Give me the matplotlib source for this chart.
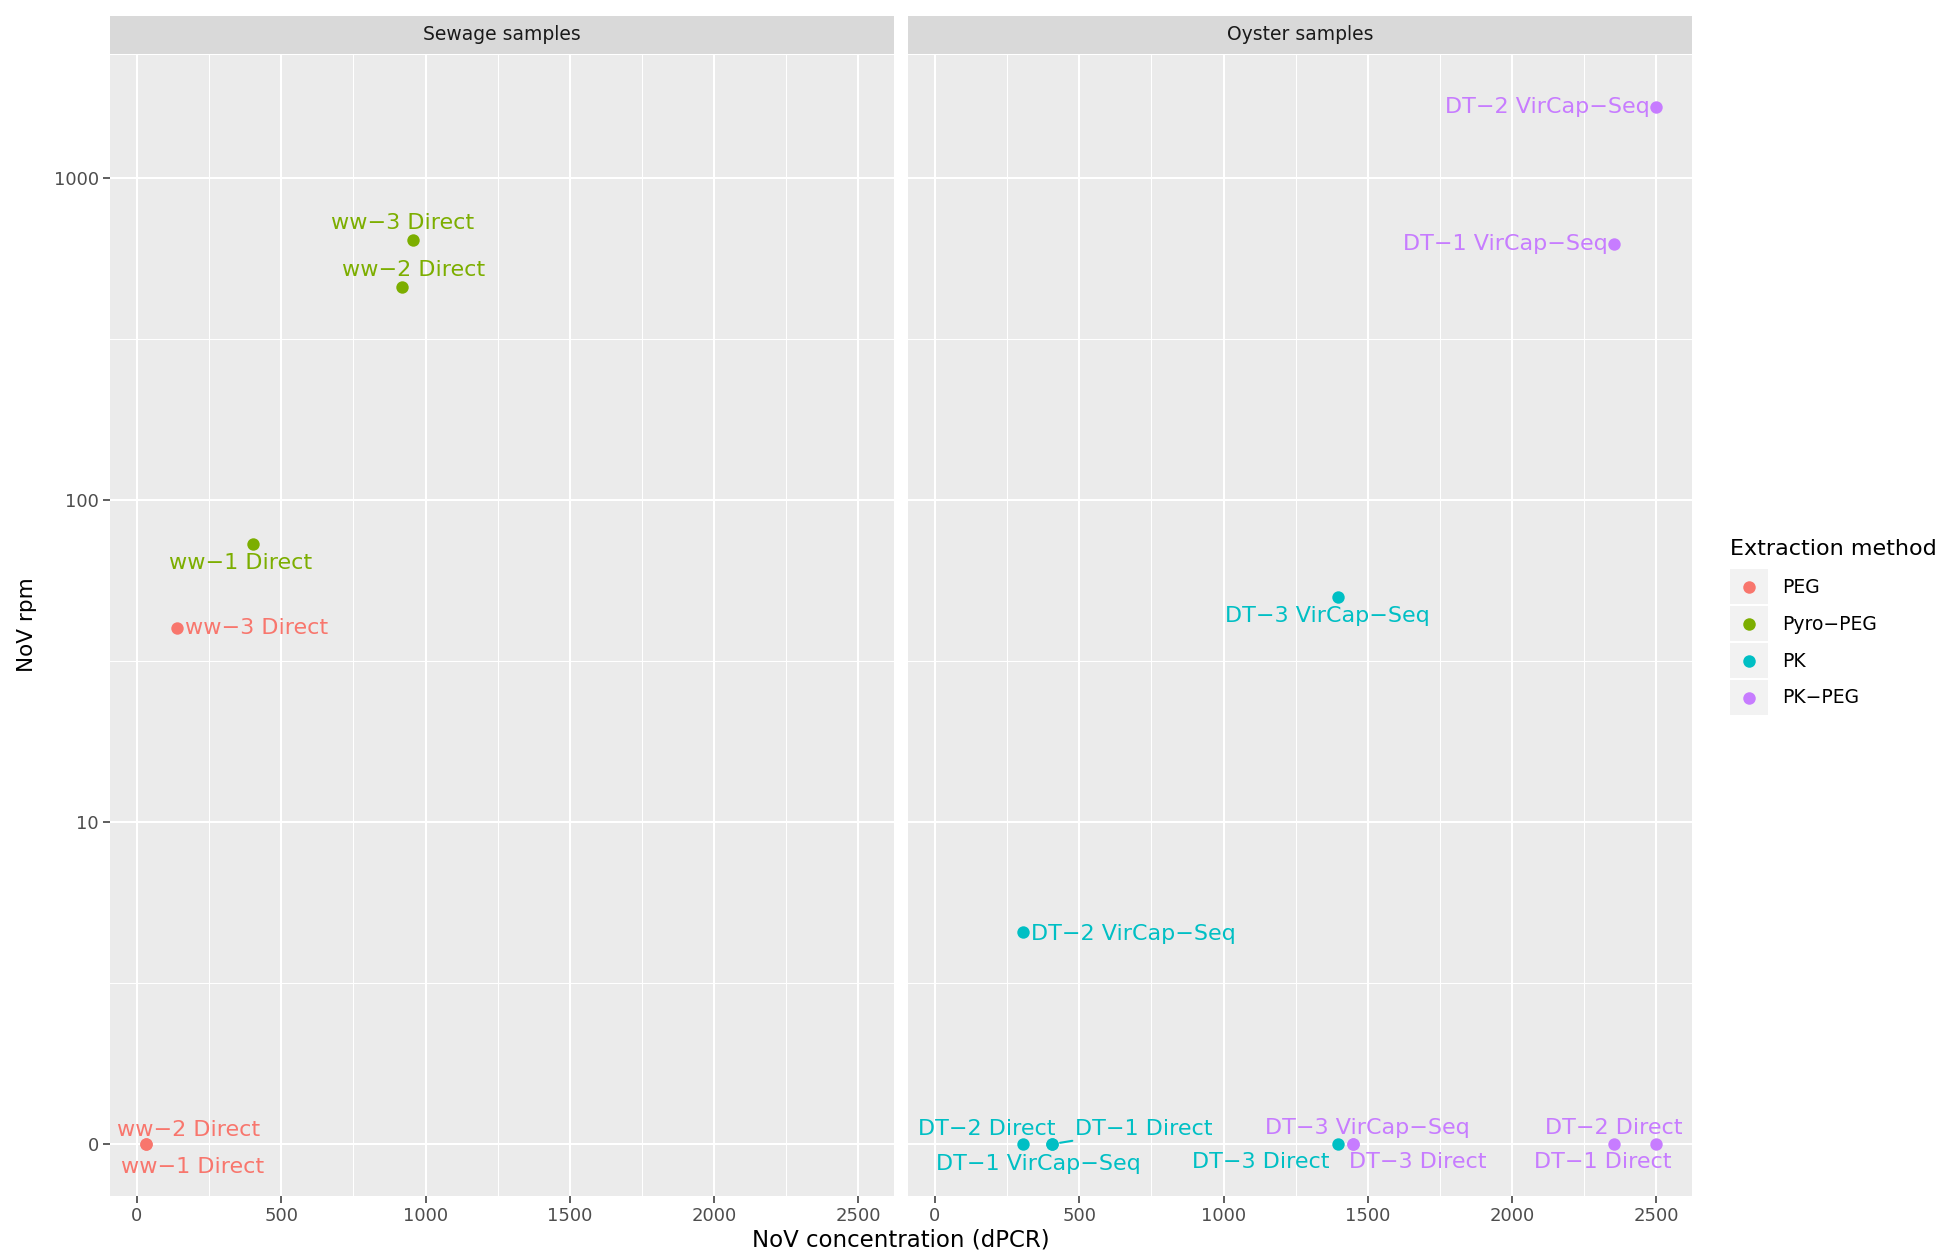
import numpy as np
import matplotlib
matplotlib.use("Agg")
import matplotlib.pyplot as plt
from matplotlib.lines import Line2D
from matplotlib.patches import Rectangle
from matplotlib.legend_handler import HandlerBase
from matplotlib.ticker import FixedLocator, NullFormatter

# ---------------- data ----------------
facets = ["Sewage samples", "Oyster samples"]
methods = ["PEG", "Pyro-PEG", "PK", "PK-PEG"]
method_colors = ["#F8766D", "#7CAE00", "#00BFC4", "#C77CFF"]

facet = ["Sewage samples"] * 6 + ["Oyster samples"] * 12
method = (["PEG"] * 3 + ["Pyro-PEG"] * 3 + ["PK"] * 6 + ["PK-PEG"] * 6)
sample = ["ww\u22121 Direct", "ww\u22122 Direct", "ww\u22123 Direct",
          "ww\u22121 Direct", "ww\u22122 Direct", "ww\u22123 Direct",
          "DT\u22121 Direct", "DT\u22122 Direct", "DT\u22123 Direct",
          "DT\u22121 VirCap\u2212Seq", "DT\u22122 VirCap\u2212Seq", "DT\u22123 VirCap\u2212Seq",
          "DT\u22121 Direct", "DT\u22122 Direct", "DT\u22123 Direct",
          "DT\u22121 VirCap\u2212Seq", "DT\u22122 VirCap\u2212Seq", "DT\u22123 VirCap\u2212Seq"]
conc = [30, 30, 138, 401, 920, 958,
        405, 304, 1398, 405, 304, 1398,
        2353, 2500, 1450, 2353, 2500, 1450]
rpm = [0, 0, 40, 73, 458, 641,
       0, 0, 0, 0, 4.56, 50,
       0, 0, 0, 623, 1660, 0]

y_ticks = [0, 10, 100, 1000]
y_ticklabels = ["0", "10", "100", "1000"]
x_ticks = [0, 500, 1000, 1500, 2000, 2500]
x_ticklabels = ["0", "500", "1000", "1500", "2000", "2500"]

# label placement (offset in pixels from point, horizontal alignment) -- style only
label_dx = [47, 43, 8, -12, 11, -11,
            92, -36, -78, -13, 8, -11,
            -11, -43, 64, -6, -7, 14]
label_dy = [-23, 14, 0, -19, 17, 17,
            15, 15, -18, -20, -2, -19,
            -18, 16, -18, 0, 0, 16]
label_ha = ["center", "center", "left", "center", "center", "center",
            "center", "center", "center", "center", "left", "center",
            "center", "center", "center", "right", "right", "center"]
leader = [False] * 18
leader[6] = True

# ---------------- scale (zero drawn at the base of the log axis) ----------------
EPS = 0.001


def fwd(y):
    return np.log10(np.maximum(y, 1.0)) + np.minimum(y - 1.0, 0.0) * EPS


def inv(t):
    return 10.0 ** np.maximum(t, 0.0) + np.minimum(t, 0.0) / EPS


W, H = 1950, 1260
fig = plt.figure(figsize=(W / 100, H / 100), dpi=100)

panel_bg = "#EBEBEB"
strip_bg = "#D9D9D9"
tick_col = "#333333"
ticklab_col = "#4D4D4D"

panel_top, panel_bot = 55, 1196
panel_x = [(110, 894), (908, 1692)]

# limits (ggplot-like 5% expansion)
cx = np.array(conc, dtype=float)
xr = cx.max() - cx.min()
xlim = (cx.min() - 0.05 * xr, cx.max() + 0.05 * xr)
ty = fwd(np.array(rpm, dtype=float))
tr = ty.max() - ty.min()
tlim = (ty.min() - 0.05 * tr, ty.max() + 0.05 * tr)
ylim = (inv(tlim[0]), inv(tlim[1]))

axes = []
for i, f in enumerate(facets):
    x0, x1 = panel_x[i]
    ax = fig.add_axes([x0 / W, 1 - panel_bot / H, (x1 - x0) / W, (panel_bot - panel_top) / H])
    ax.set_facecolor(panel_bg)
    for s in ax.spines.values():
        s.set_visible(False)
    ax.set_yscale("function", functions=(fwd, inv))
    ax.set_xlim(*xlim)
    ax.set_ylim(*ylim)
    ax.xaxis.set_major_locator(FixedLocator(x_ticks))
    ax.set_xticklabels(x_ticklabels)
    ax.xaxis.set_minor_locator(FixedLocator([250, 750, 1250, 1750, 2250]))
    ax.yaxis.set_major_locator(FixedLocator(y_ticks))
    ax.set_yticklabels(y_ticklabels)
    ax.yaxis.set_minor_locator(FixedLocator([10 ** 0.5, 10 ** 1.5, 10 ** 2.5]))
    ax.yaxis.set_minor_formatter(NullFormatter())
    ax.xaxis.set_minor_formatter(NullFormatter())
    ax.grid(which="major", color="white", linewidth=1.5)
    ax.grid(which="minor", color="white", linewidth=0.75)
    ax.set_axisbelow(True)
    ax.tick_params(which="major", length=5, width=1.1, color=tick_col,
                   labelsize=13, labelcolor=ticklab_col, pad=3)
    ax.tick_params(which="minor", length=0)
    if i > 0:
        ax.tick_params(axis="y", which="both", left=False, labelleft=False)

    # strip
    sax = fig.add_axes([x0 / W, 1 - 54 / H, (x1 - x0) / W, 38 / H])
    sax.set_facecolor(strip_bg)
    sax.set_xticks([])
    sax.set_yticks([])
    for s in sax.spines.values():
        s.set_visible(False)
    sax.text(0.5, 0.5, f, ha="center", va="center", fontsize=13.5, color="#1A1A1A",
             transform=sax.transAxes)
    axes.append(ax)

# points and labels
for j in range(len(conc)):
    ax = axes[facets.index(facet[j])]
    col = method_colors[methods.index(method[j])]
    ax.scatter([conc[j]], [rpm[j]], s=80, color=col, linewidths=0, zorder=3)
    kw = {}
    if leader[j]:
        kw["arrowprops"] = dict(arrowstyle="-", color=col, lw=1.5, shrinkA=0, shrinkB=6)
    ax.annotate(sample[j], xy=(conc[j], rpm[j]), xytext=(label_dx[j], label_dy[j]),
                textcoords="offset pixels", ha=label_ha[j], va="center",
                fontsize=16, color=col, zorder=4, **kw)

# axis titles
fig.text(901 / W, 1 - 1240 / H, "NoV concentration (dPCR)", ha="center", va="center",
         fontsize=16.5, color="black")
fig.text(27 / W, 1 - 625 / H, "NoV rpm", ha="center", va="center", rotation=90,
         fontsize=15.5, color="black")


# legend with ggplot-like key backgrounds
class KeyHandler(HandlerBase):
    def create_artists(self, legend, orig_handle, xdescent, ydescent, width, height,
                       fontsize, trans):
        rect = Rectangle((-xdescent, -ydescent), width, height, facecolor="#F2F2F2",
                         edgecolor="none", transform=trans)
        dot = Line2D([-xdescent + width / 2], [-ydescent + height / 2], marker="o",
                     linestyle="none", markersize=9, markeredgewidth=0,
                     color=orig_handle.get_color(), transform=trans)
        return [rect, dot]


handles = [Line2D([], [], color=c, marker="o", linestyle="none") for c in method_colors]
leg = fig.legend(handles, [m.replace("-", "\u2212") for m in methods],
                 title="Extraction method", loc="upper left",
                 bbox_to_anchor=(1730 / W, 1 - 539 / H), frameon=False,
                 fontsize=13.5, title_fontsize=16, handlelength=2.0, handleheight=2.5,
                 handletextpad=0.8, labelspacing=0.1, borderpad=0, borderaxespad=0,
                 handler_map={Line2D: KeyHandler()}, alignment="left")
leg._legend_box.sep = 7.5

fig.savefig("out.png", dpi=100)
